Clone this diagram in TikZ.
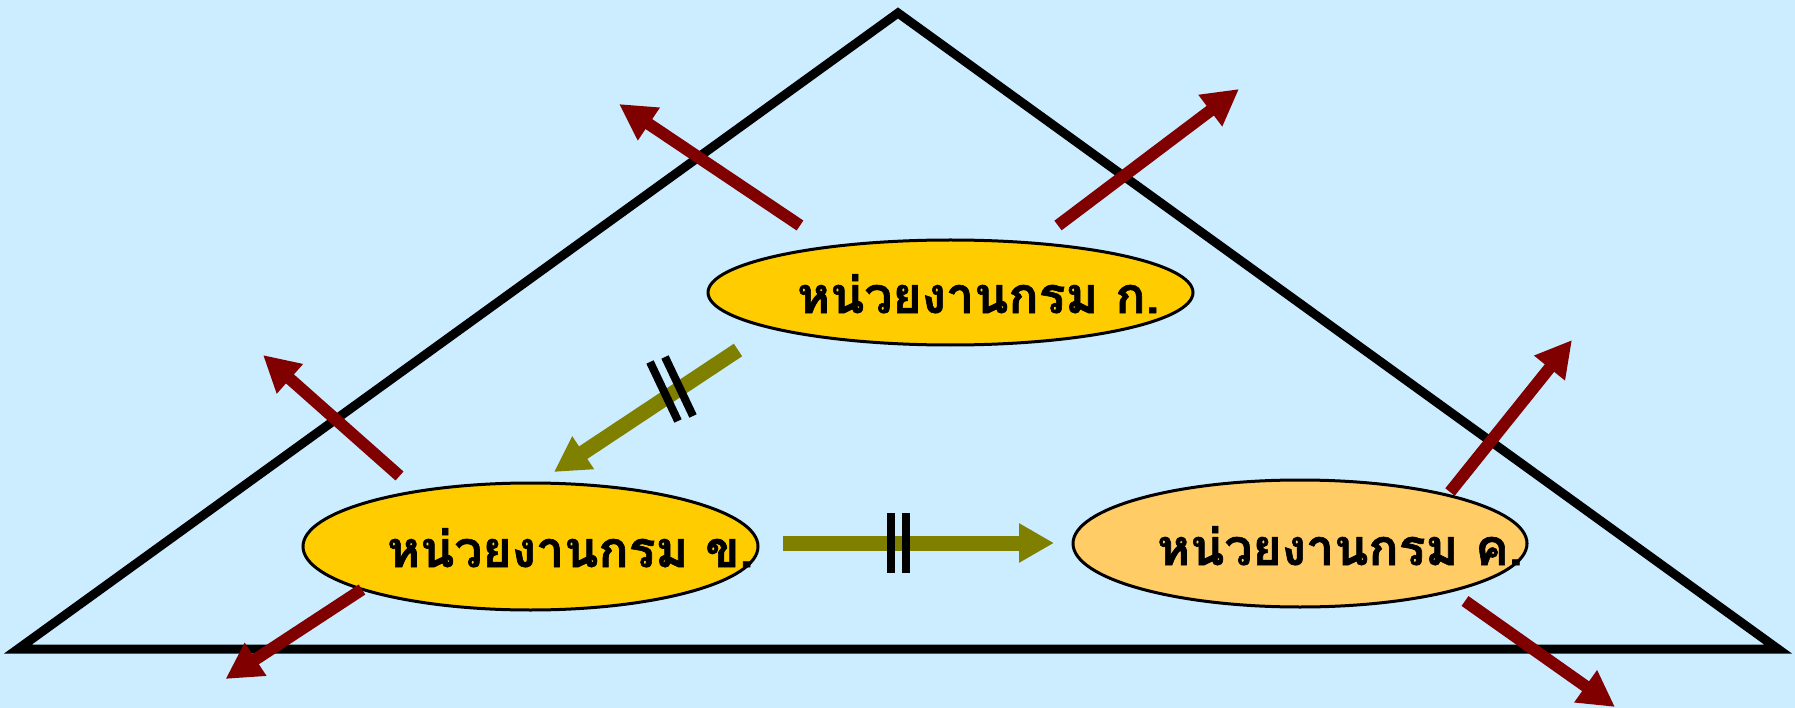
\documentclass[tikz,border=0pt]{standalone}
\usepackage{fontspec}
\newfontfamily\thaifont[Script=Thai, BoldFont={Loma Bold}, BoldFeatures={FakeBold=1.2}]{Loma}
\usetikzlibrary{shapes.geometric,arrows.meta}
\definecolor{bgblue}{HTML}{CCECFF}
\definecolor{gold}{HTML}{FFCC00}
\definecolor{lightgold}{HTML}{FFCC66}
\definecolor{darkred}{HTML}{800000}
\definecolor{olivegreen}{HTML}{808000}
\tikzset{
  unit/.style={ellipse, draw=black, line width=3pt, inner sep=0pt},
  unitlabel/.style={anchor=base west, inner sep=0pt, font=\thaifont\bfseries\fontsize{50}{60}\selectfont},
  outarrow/.style={draw=darkred, line width=12pt, -{Triangle[length=36pt,width=37pt]}},
  flowarrow/.style={draw=olivegreen, line width=15pt, -{Triangle[length=35pt,width=37pt]}},
  tick/.style={draw=black, line width=8pt},
  frame/.style={draw=black, line width=9pt, line join=miter}
}
\begin{document}
\begin{tikzpicture}[x=1pt,y=-1pt]
\useasboundingbox (0,0) rectangle (1795,708);
\fill[bgblue] (0,0) rectangle (1795,708);
% triangle
\coordinate (apex) at (898,13);
\coordinate (bl) at (18,649);
\coordinate (br) at (1778,649);
\draw[frame] (apex) -- (br) -- (bl) -- cycle;
% ellipses
\node[unit, fill=gold, minimum width=485pt, minimum height=105pt] (A) at (950.5,292.5) {};
\node[unit, fill=gold, minimum width=455pt, minimum height=127pt] (B) at (530.5,546.5) {};
\node[unit, fill=lightgold, minimum width=454pt, minimum height=127pt] (C) at (1300,543.5) {};
\node[unitlabel] (tA) at (797,313) {หน่วยงานกรม ก.};
\node[unitlabel] (tB) at (387,567) {หน่วยงานกรม ข.};
\node[unitlabel] (tC) at (1157,565) {หน่วยงานกรม ค.};
% outward arrows
\coordinate (r1s) at (800,225.5); \coordinate (r1e) at (619,104);
\coordinate (r2s) at (1058,225.5); \coordinate (r2e) at (1239,89);
\coordinate (r3s) at (399.5,476); \coordinate (r3e) at (263,355);
\coordinate (r4s) at (362,589.5); \coordinate (r4e) at (225.5,679);
\coordinate (r5s) at (1450,492); \coordinate (r5e) at (1572,340);
\coordinate (r6s) at (1465,601); \coordinate (r6e) at (1615,707);
\draw[outarrow] (r1s) -- (r1e);
\draw[outarrow] (r2s) -- (r2e);
\draw[outarrow] (r3s) -- (r3e);
\draw[outarrow] (r4s) -- (r4e);
\draw[outarrow] (r5s) -- (r5e);
\draw[outarrow] (r6s) -- (r6e);
% flow arrows
\coordinate (f1s) at (738,350); \coordinate (f1e) at (554,472);
\coordinate (f2s) at (783,543); \coordinate (f2e) at (1054,543);
\draw[flowarrow] (f1s) -- (f1e);
\draw[flowarrow] (f2s) -- (f2e);
% ticks
\coordinate (t1a) at (650,362); \coordinate (t1b) at (678,421);
\coordinate (t2a) at (665,357); \coordinate (t2b) at (693,416);
\coordinate (t3a) at (891,513); \coordinate (t3b) at (891,573);
\coordinate (t4a) at (906,513); \coordinate (t4b) at (906,573);
\draw[tick] (t1a) -- (t1b);
\draw[tick] (t2a) -- (t2b);
\draw[tick] (t3a) -- (t3b);
\draw[tick] (t4a) -- (t4b);
\end{tikzpicture}
\end{document}
